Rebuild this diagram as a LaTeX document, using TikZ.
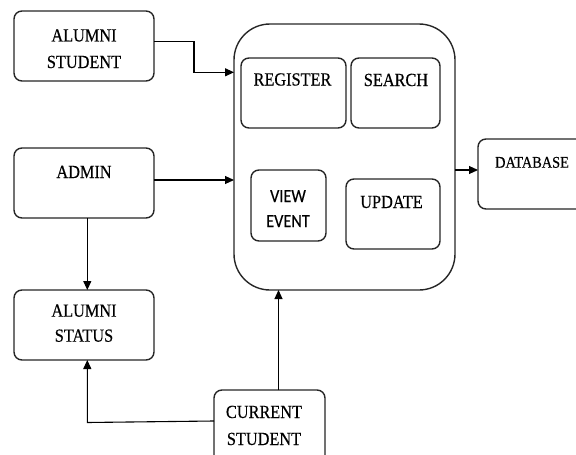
\documentclass[tikz,border=0pt]{standalone}
\usepackage{fontspec}
\setmainfont{Liberation Serif}
\newfontfamily\tms[FakeStretch=0.88,FakeBold=0.4]{Liberation Serif}
\newfontfamily\calib[FakeStretch=0.88,FakeBold=0.4]{Carlito}
\usetikzlibrary{arrows.meta}
\tikzset{
  box/.style={draw=black!85, line width=1.4pt, rounded corners=8pt, fill=white},
  bigbox/.style={draw=black!85, line width=1.4pt, rounded corners=36pt},
  lbl/.style={anchor=base, inner sep=0pt, font=\tms\fontsize{18.5}{22}\selectfont},
  conn/.style={draw=black, line width=1.1pt, -{Triangle[length=9pt,width=8pt]}},
}
\begin{document}
\begin{tikzpicture}[x=1pt,y=-1pt]
\useasboundingbox (0,0) rectangle (576,455);
\clip (0,0) rectangle (576,455);
% main container
\draw[bigbox] (234,24) rectangle (455,290);
% boxes
\draw[box] (14,11) rectangle (154,81);
\draw[box] (14,148) rectangle (154,218);
\draw[box] (14,290) rectangle (154,360);
\draw[box] (214,390) rectangle (325,470);
\draw[box] (241,58) rectangle (346,128);
\draw[box] (351,58) rectangle (440,128);
\draw[box] (251,170) rectangle (326,241);
\draw[box] (346,179) rectangle (440,249);
\draw[box] (478,139) rectangle (590,209);
% labels
\node[lbl] (as1) at (84,41.5) {ALUMNI};
\node[lbl] (as2) at (84,68) {STUDENT};
\node[lbl] (adm) at (84,178) {ADMIN};
\node[lbl] (st1) at (84,316.7) {ALUMNI};
\node[lbl] (st2) at (84,341.7) {STATUS};
\node[lbl] (cs1) at (264,418) {CURRENT};
\node[lbl] (cs2) at (264,445) {STUDENT};
\node[lbl] (reg) at (292.5,85.5) {REGISTER};
\node[lbl] (sea) at (396,86) {SEARCH};
\node[lbl] (upd) at (391.5,208) {UPDATE};
\node[lbl, font=\tms\fontsize{16.3}{20}\selectfont] (db) at (532,167.7) {DATABASE};
\node[lbl, font=\calib\fontsize{18.5}{22}\selectfont] (ve1) at (288,202) {VIEW};
\node[lbl, font=\calib\fontsize{18.5}{22}\selectfont] (ve2) at (288,227) {EVENT};
% named connector points
\coordinate (asOut) at (154,41.5);
\coordinate (asIn) at (234,72.3);
\coordinate (admOut) at (154,180);
\coordinate (admIn) at (234,180);
\coordinate (admDown) at (87.3,218);
\coordinate (statTop) at (87.3,290);
\coordinate (statBot) at (87.3,360);
\coordinate (csW) at (214,421);
\coordinate (csN) at (278.5,390);
\coordinate (mainS) at (278.5,290);
\coordinate (mainE) at (455,170);
\coordinate (dbW) at (478,170);
% connectors
\draw[conn] (asOut) -- (194,41.5) -- (194,72.3) -- (asIn);
\draw[conn] (admOut) -- (admIn);
\draw[conn] (admDown) -- (statTop);
\draw[conn] (csW) -- (87.3,422.5) -- (statBot);
\draw[conn] (csN) -- (mainS);
\draw[conn] (mainE) -- (dbW);
\end{tikzpicture}
\end{document}
